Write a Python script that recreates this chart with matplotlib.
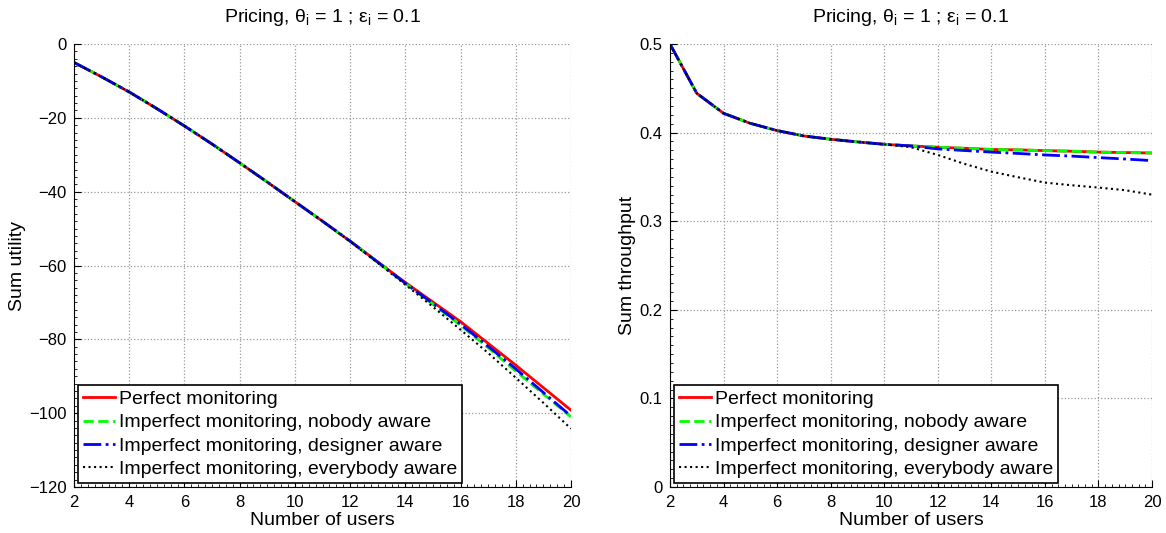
import matplotlib
matplotlib.use('Agg')
import matplotlib.pyplot as plt
from matplotlib.ticker import MultipleLocator, FormatStrFormatter

plt.rcParams['font.family'] = ['Liberation Sans', 'DejaVu Sans']
plt.rcParams['mathtext.fontset'] = 'custom'
plt.rcParams['mathtext.rm'] = 'Liberation Sans'
plt.rcParams['mathtext.it'] = 'Liberation Sans:italic'

# number of users
users = list(range(2, 21))

# sum utility, pricing scheme
util_perfect = [-5, -8.9, -13, -17.5, -22.2, -27.1, -32.2, -37.4, -42.7, -48,
                -53.4, -59, -64.6, -69.9, -75.2, -81.1, -87, -93.1, -99.2]
util_nobody = [-5, -8.9, -13, -17.5, -22.2, -27.1, -32.2, -37.4, -42.7, -48,
               -53.4, -59.1, -64.9, -70.5, -76.2, -82.3, -88.6, -94.8, -101]
util_designer = [-5, -8.9, -13, -17.5, -22.2, -27.1, -32.2, -37.4, -42.7, -48,
                 -53.4, -59.1, -64.8, -70.3, -75.9, -81.9, -88.0, -94.4, -100.8]
util_everybody = [-5, -8.9, -13, -17.5, -22.2, -27.1, -32.2, -37.4, -42.7, -48,
                  -53.5, -59.3, -65.2, -71.2, -77.4, -83.7, -90.4, -97.2, -104.2]

# sum throughput, pricing scheme
thr_perfect = [0.5, 0.4444, 0.4218, 0.4105, 0.4023, 0.3962, 0.3925, 0.3895, 0.3868,
               0.385, 0.3835, 0.3823, 0.381, 0.3805, 0.3797, 0.379, 0.378, 0.3775, 0.377]
thr_nobody = [0.5, 0.4444, 0.4218, 0.4105, 0.4023, 0.3962, 0.3925, 0.3895, 0.3868,
              0.385, 0.3835, 0.3823, 0.381, 0.3805, 0.3797, 0.379, 0.378, 0.3775, 0.377]
thr_designer = [0.5, 0.4444, 0.4218, 0.4105, 0.4023, 0.3962, 0.3925, 0.3895, 0.3868,
                0.385, 0.3816, 0.3798, 0.378, 0.3765, 0.3748, 0.3735, 0.3718, 0.3702, 0.3684]
thr_everybody = [0.5, 0.4444, 0.4218, 0.4105, 0.4023, 0.3962, 0.3925, 0.3895, 0.3868,
                 0.3835, 0.3748, 0.3647, 0.356, 0.3496, 0.3436, 0.3406, 0.338, 0.335, 0.330]

labels = ['Perfect monitoring',
          'Imperfect monitoring, nobody aware',
          'Imperfect monitoring, designer aware',
          'Imperfect monitoring, everybody aware']
title = 'Pricing, $\\mathregular{\\theta_i}$ = 1 ; $\\mathregular{\\varepsilon_i}$ = 0.1'

fig = plt.figure(figsize=(11.66, 5.33), dpi=100)
ax1 = fig.add_axes([0.0635, 0.0863, 0.4262, 0.8311])
ax2 = fig.add_axes([0.5746, 0.0863, 0.4134, 0.8311])


def draw(ax, series, ylabel):
    ax.plot(users, series[0], color='red', lw=2, ls='-', label=labels[0])
    ax.plot(users, series[1], color='lime', lw=2, ls='--', label=labels[1])
    ax.plot(users, series[2], color='blue', lw=2, ls='-.', label=labels[2])
    ax.plot(users, series[3], color='black', lw=1.5, ls=':', label=labels[3])
    ax.set_xlim(2, 20)
    ax.xaxis.set_major_locator(MultipleLocator(2))
    ax.xaxis.set_minor_locator(MultipleLocator(0.25))
    ax.grid(True, which='major', ls=':', color='#999999', lw=0.9)
    ax.spines['top'].set_visible(False)
    ax.spines['right'].set_visible(False)
    ax.tick_params(which='both', direction='in', labelsize=12, top=False, right=False)
    ax.tick_params(which='major', length=5, pad=5.5)
    ax.tick_params(which='minor', length=2.5)
    ax.set_title(title, fontsize=14, pad=16)
    ax.set_xlabel('Number of users', fontsize=14, labelpad=2)
    ax.set_ylabel(ylabel, fontsize=14, labelpad=2)
    leg = ax.legend(loc='lower left', fontsize=14, fancybox=False, framealpha=1,
                    borderaxespad=0.2, handlelength=1.65, handletextpad=0.2,
                    borderpad=0.25, labelspacing=0.3)
    leg.get_frame().set_edgecolor('black')
    leg.get_frame().set_linewidth(1.2)


draw(ax1, [util_perfect, util_nobody, util_designer, util_everybody], 'Sum utility')
ax1.set_ylim(-120, 0)
ax1.yaxis.set_major_locator(MultipleLocator(20))
ax1.yaxis.set_minor_locator(MultipleLocator(2))

draw(ax2, [thr_perfect, thr_nobody, thr_designer, thr_everybody], 'Sum throughput')
ax2.set_ylim(0, 0.5)
ax2.yaxis.set_major_locator(MultipleLocator(0.1))
ax2.yaxis.set_minor_locator(MultipleLocator(0.01))
ax2.yaxis.set_major_formatter(FormatStrFormatter('%g'))

fig.savefig('out.png', dpi=100)
